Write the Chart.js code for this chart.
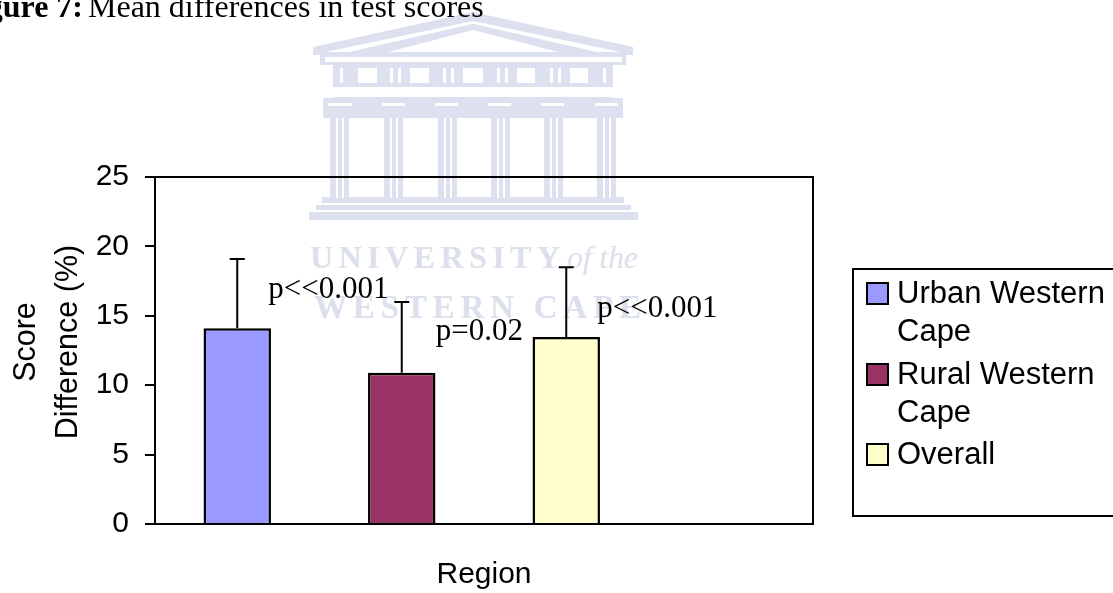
<!DOCTYPE html>
<html>
<head>
<meta charset="utf-8">
<script src="https://cdn.jsdelivr.net/npm/chart.js@4"></script>
<style>
html,body{margin:0;padding:0;background:#fff;width:1113px;height:593px;overflow:hidden}
#wrap{position:relative;width:1113px;height:593px;overflow:hidden}
#wm,#c{position:absolute;left:0;top:0}
#cap{position:absolute;left:0;top:-12px;width:600px;height:40px;font:32px "Liberation Serif",serif;color:#000;white-space:nowrap}
#cap b{position:absolute;right:517px;top:0}
#cap span{position:absolute;left:88px;top:0}
</style>
</head>
<body>
<div id="wrap">
<svg id="wm" width="1113" height="593" xmlns="http://www.w3.org/2000/svg">
  <defs><filter id="soft" x="-5%" y="-5%" width="110%" height="110%"><feGaussianBlur stdDeviation="0.6"/></filter></defs>
  <g filter="url(#soft)">
    <g fill="#dde0ee">
      <path fill-rule="evenodd" d="M473 12 L633 47 L633 55 L313 55 L313 47 Z M473 21 L325 52 L350 52 L473 24 L596 52 L621 52 Z"/>
      <path d="M473 24 L350 52 L596 52 Z" fill="#dde0ee"/>
      <rect x="320" y="53" width="306" height="12"/>
      <rect x="333" y="65" width="280" height="20"/>
      <rect x="333" y="85" width="280" height="13"/>
      <rect x="323" y="98" width="300" height="20"/>
      <rect x="330" y="106" width="19" height="92"/>
      <rect x="384" y="106" width="19" height="92"/>
      <rect x="438" y="106" width="19" height="92"/>
      <rect x="491" y="106" width="19" height="92"/>
      <rect x="544" y="106" width="19" height="92"/>
      <rect x="597" y="106" width="19" height="92"/>
      <rect x="322" y="197" width="302" height="6"/>
      <rect x="316" y="205" width="315" height="5"/>
      <rect x="309" y="212" width="329" height="8"/>
    </g>
    <g fill="#fff">
      <path d="M473 30 L388 52 L558 52 Z"/>
      <rect x="325" y="57" width="297" height="5"/>
      <rect x="358" y="68" width="19" height="15"/><rect x="410" y="68" width="19" height="15"/>
      <rect x="463" y="68" width="20" height="15"/><rect x="517" y="68" width="18" height="15"/>
      <rect x="570" y="68" width="18" height="15"/>
      <rect x="340" y="68" width="3" height="15"/><rect x="390" y="68" width="3" height="15"/><rect x="398" y="68" width="3" height="15"/>
      <rect x="443" y="68" width="3" height="15"/><rect x="451" y="68" width="3" height="15"/>
      <rect x="497" y="68" width="3" height="15"/><rect x="505" y="68" width="3" height="15"/>
      <rect x="550" y="68" width="3" height="15"/><rect x="558" y="68" width="3" height="15"/>
      <rect x="603" y="68" width="3" height="15"/>
      <rect x="333" y="87" width="280" height="10"/>
      <rect x="328" y="103" width="24" height="3"/><rect x="382" y="103" width="23" height="3"/>
      <rect x="435" y="103" width="23" height="3"/><rect x="488" y="103" width="23" height="3"/>
      <rect x="541" y="103" width="23" height="3"/><rect x="595" y="103" width="23" height="3"/>
      <rect x="336" y="118" width="2" height="80"/><rect x="342" y="118" width="2" height="80"/>
      <rect x="390" y="118" width="2" height="80"/><rect x="396" y="118" width="2" height="80"/>
      <rect x="444" y="118" width="2" height="80"/><rect x="450" y="118" width="2" height="80"/>
      <rect x="497" y="118" width="2" height="80"/><rect x="503" y="118" width="2" height="80"/>
      <rect x="550" y="118" width="2" height="80"/><rect x="556" y="118" width="2" height="80"/>
      <rect x="603" y="118" width="2" height="80"/><rect x="609" y="118" width="2" height="80"/>
    </g>
  </g>
  <g fill="#dcdfec" font-family="Liberation Serif">
    <text x="310" y="268" font-size="32" font-weight="bold" textLength="250" lengthAdjust="spacing">UNIVERSITY</text>
    <text x="567" y="268" font-size="32" font-style="italic" textLength="71" lengthAdjust="spacing">of the</text>
    <text x="314" y="318" font-size="33" font-weight="bold" textLength="327" lengthAdjust="spacing">WESTERN CAPE</text>
  </g>
</svg>
<canvas id="c" width="1113" height="593"></canvas>
<div id="cap"><b>Figure 7:</b><span>Mean differences in test scores</span></div>
</div>
<script>
const categories = ['Urban Western Cape', 'Rural Western Cape', 'Overall', ''];
const urbanValues = [14.1, null, null, null];
const ruralValues = [null, 10.9, null, null];
const overallValues = [null, null, 13.47, null];
const errorTops = [19.1, 16, 18.5];
const pLabels = ['p<<0.001', 'p=0.02', 'p<<0.001'];
const yTicks = [0, 5, 10, 15, 20, 25];
const legendLines = [['Urban Western', 'Cape'], ['Rural Western', 'Cape'], ['Overall']];
const colors = ['#9999FF', '#993366', '#FFFFCC'];

const SANS = '"Liberation Sans", Arial, sans-serif';
const SERIF = '"Liberation Serif", serif';

const extras = {
  id: 'extras',
  afterDatasetsDraw(chart) {
    const ctx = chart.ctx, x = chart.scales.x, y = chart.scales.y, a = chart.chartArea;
    const vals = [urbanValues[0], ruralValues[1], overallValues[2]];
    const lift = [38, 41, 28];
    const textDx = [31, 34, 31];
    ctx.save();
    // plot frame: top and right edges, same weight as the axes
    ctx.strokeStyle = '#000';
    ctx.lineWidth = 2;
    ctx.beginPath();
    ctx.moveTo(a.left, a.top); ctx.lineTo(a.right, a.top); ctx.lineTo(a.right, a.bottom);
    ctx.stroke();
    errorTops.forEach((top, i) => {
      const cx = x.getPixelForValue(i);
      const yb = y.getPixelForValue(vals[i]);
      const yt = y.getPixelForValue(top);
      ctx.strokeStyle = '#000';
      ctx.lineWidth = 2;
      ctx.beginPath();
      ctx.moveTo(cx, yb); ctx.lineTo(cx, yt);
      ctx.moveTo(cx - 7.5, yt); ctx.lineTo(cx + 7.5, yt);
      ctx.stroke();
      ctx.fillStyle = '#000';
      ctx.font = '31px ' + SERIF;
      ctx.textBaseline = 'middle';
      ctx.textAlign = 'left';
      ctx.fillText(pLabels[i], cx + textDx[i], yb - lift[i]);
    });
    // legend
    ctx.strokeStyle = '#000';
    ctx.lineWidth = 2;
    ctx.fillStyle = '#fff';
    ctx.fillRect(853, 269, 270, 247);
    ctx.strokeRect(853, 269, 270, 247);
    const swatchTop = [283, 364, 444];
    chart.data.datasets.forEach((ds, i) => {
      ctx.fillStyle = ds.backgroundColor;
      ctx.fillRect(867, swatchTop[i], 21, 21);
      ctx.strokeRect(867, swatchTop[i], 21, 21);
      ctx.fillStyle = '#000';
      ctx.font = '31px ' + SANS;
      ctx.textBaseline = 'middle';
      legendLines[i].forEach((line, k) => ctx.fillText(line, 897, swatchTop[i] + 11 + k * 38));
    });
    ctx.restore();
  }
};

new Chart(document.getElementById('c'), {
  type: 'bar',
  data: {
    labels: categories,
    datasets: [
      { label: categories[0], data: urbanValues, backgroundColor: colors[0] },
      { label: categories[1], data: ruralValues, backgroundColor: colors[1] },
      { label: categories[2], data: overallValues, backgroundColor: colors[2] }
    ].map(d => Object.assign(d, {
      borderColor: '#000', borderWidth: 2.5, grouped: false,
      barPercentage: 0.41, categoryPercentage: 1
    }))
  },
  plugins: [extras],
  options: {
    responsive: false,
    animation: false,
    layout: { padding: { left: 0, top: 177, right: 300, bottom: 0 } },
    plugins: { legend: { display: false }, tooltip: { enabled: false } },
    scales: {
      x: {
        border: { display: true, color: '#000', width: 2 },
        grid: { display: false },
        ticks: { display: false },
        afterFit(s) { s.height = 69; },
        title: {
          display: true, text: 'Region', color: '#000',
          font: { family: SANS, size: 30 }, padding: { top: 30, bottom: 0 }
        }
      },
      y: {
        min: 0, max: 25,
        border: { display: true, color: '#000', width: 2 },
        grid: {
          drawOnChartArea: false, drawTicks: true, tickLength: 10,
          color: '#000', lineWidth: 2
        },
        afterBuildTicks(s) { s.ticks = yTicks.map(v => ({ value: v })); },
        afterFit(s) { s.width = 155; },
        ticks: {
          color: '#000', font: { family: SANS, size: 30 }, padding: 16,
          autoSkip: false
        },
        title: {
          display: true, text: ['  Score', '  Difference (%)'], color: '#000',
          font: { family: SANS, size: 30.5, lineHeight: 1.36 }, padding: { top: 6, bottom: 0 }
        }
      }
    }
  }
});
</script>
</body>
</html>
